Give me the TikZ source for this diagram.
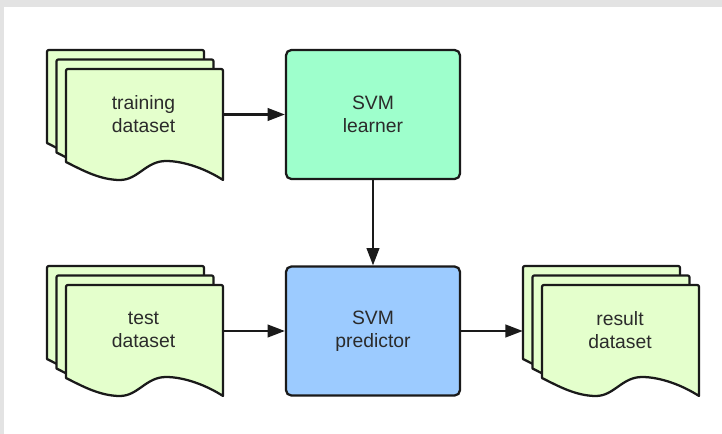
\documentclass[tikz,border=0pt]{standalone}
\usepackage{fontspec}
\setmainfont{Liberation Sans}
\usetikzlibrary{arrows.meta}

\definecolor{docgreen}{HTML}{E4FFCC}
\definecolor{learnfill}{HTML}{9EFFCC}
\definecolor{predfill}{HTML}{9CCBFF}
\definecolor{inkline}{HTML}{1A1A1A}
\definecolor{inktext}{HTML}{2B2B2B}
\definecolor{framegray}{HTML}{E3E3E3}

\tikzset{
  x=0.75pt, y=-0.75pt,
  sheetstyle/.style={fill=docgreen, draw=inkline, line width=1.7pt, line join=round},
  labeltext/.style={font=\fontsize{14.5}{17.5}\selectfont, text=inktext, align=center, inner sep=0pt},
  procbox/.style={labeltext, draw=inkline, line width=1.7pt, rounded corners=4pt,
    minimum width=130.5pt, minimum height=96.75pt},
  stackbox/.style={draw=none, inner sep=0pt, minimum width=131.25pt, minimum height=97.5pt},
  flow/.style={draw=inkline, line width=1.6pt, -{Triangle[length=13pt,width=9.5pt]}},
}

% one document sheet, top-left corner at (#1,#2), 157 x 111 units, wavy bottom
\newcommand\docsheet[2]{%
  \path[sheetstyle] ({#1},{#2+93}) -- ({#1},{#2+4})
    .. controls ({#1},{#2}) .. ({#1+4},{#2}) -- ({#1+153},{#2})
    .. controls ({#1+157},{#2}) .. ({#1+157},{#2+4}) -- ({#1+157},{#2+111})
    .. controls ({#1+140},{#2+100}) and ({#1+118},{#2+92}) .. ({#1+100},{#2+92})
    .. controls ({#1+80},{#2+92}) and ({#1+72},{#2+111}) .. ({#1+54},{#2+111})
    .. controls ({#1+34},{#2+111}) and ({#1+16},{#2+101}) .. ({#1},{#2+93}) -- cycle;}

% stack of three sheets, back sheet at (#1,#2)
\newcommand\docstack[2]{%
  \docsheet{#1}{#2}%
  \docsheet{#1+9.5}{#2+9.5}%
  \docsheet{#1+19}{#2+19}}

\begin{document}
\begin{tikzpicture}
  \useasboundingbox (0,0) rectangle (722,434);
  \fill[white] (0,0) rectangle (722,434);
  \fill[framegray] (0,0) rectangle (722,7);
  \fill[framegray] (0,0) rectangle (4,434);

  % document stacks
  \docstack{47}{50}
  \docstack{47}{266}
  \docstack{523}{266}

  \node[stackbox] (train) at (134.5,114.5) {};
  \node[stackbox] (test) at (134.5,331) {};
  \node[stackbox] (result) at (610.5,331) {};

  \node[labeltext] (trainlbl) at (143.5,114) {training\\dataset};
  \node[labeltext] (testlbl) at (143.5,330) {test\\dataset};
  \node[labeltext] (resultlbl) at (620,330) {result\\dataset};

  % processing boxes
  \node[procbox, fill=learnfill] (learner) at (373,114.5) {SVM\\learner};
  \node[procbox, fill=predfill] (predictor) at (373,331) {SVM\\predictor};

  % connectors
  \draw[flow] (train.east) -- (learner.west);
  \draw[flow] (learner.south) -- (predictor.north);
  \draw[flow] (test.east) -- (predictor.west);
  \draw[flow] (predictor.east) -- (result.west);
\end{tikzpicture}
\end{document}
